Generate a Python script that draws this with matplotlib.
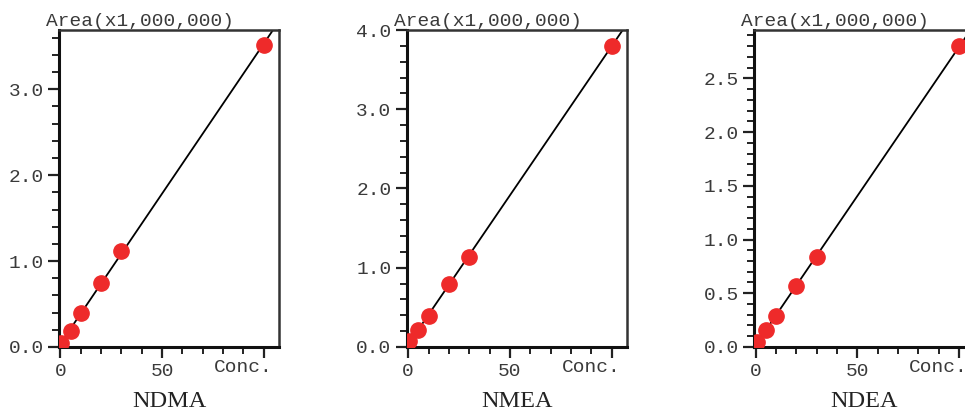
import numpy as np
import matplotlib
matplotlib.use('Agg')
import matplotlib.pyplot as plt
from matplotlib.ticker import MultipleLocator, FixedLocator

# concentration levels (same for the three compounds)
conc = [0.5, 5, 10, 20, 30, 100]

# peak area (x1,000,000)
ndma_area = [0.05, 0.18, 0.39, 0.75, 1.12, 3.52]
nmea_area = [0.08, 0.21, 0.39, 0.79, 1.14, 3.80]
ndea_area = [0.05, 0.16, 0.29, 0.565, 0.84, 2.80]

names = ['NDMA', 'NMEA', 'NDEA']
areas = [ndma_area, nmea_area, ndea_area]
ytop = [3.69, 4.0, 2.95]
ymajor = [1.0, 1.0, 0.5]
yminor = [0.2, 0.2, 0.1]
lefts = [0.0611, 0.4215, 0.7817]

mono = 'Liberation Mono'
serif = 'Liberation Serif'

fig = plt.figure(figsize=(9.65, 4.12), dpi=100)

for i in range(3):
    ax = fig.add_axes([lefts[i], 0.158, 0.228, 0.769])
    x = np.array(conc)
    y = np.array(areas[i])

    # calibration line (least squares fit)
    k, b = np.polyfit(x, y, 1)
    xl = np.array([-1, 110])
    ax.plot(xl, k * xl + b, color='black', lw=1.3, zorder=2)
    ax.plot(x, y, 'o', color='#ee2a2a', markersize=11, zorder=3)

    ax.set_xlim(-0.7, 107.5)
    ax.set_ylim(0, ytop[i])

    ax.xaxis.set_major_locator(FixedLocator([0, 50, 100]))
    ax.xaxis.set_minor_locator(MultipleLocator(10))
    ax.set_xticklabels(['0', '50', ''])
    ax.yaxis.set_major_locator(MultipleLocator(ymajor[i]))
    ax.yaxis.set_minor_locator(MultipleLocator(yminor[i]))
    ax.yaxis.set_major_formatter(lambda v, p: '%.1f' % v)

    ax.tick_params(axis='both', which='major', direction='out', length=8, width=1.6,
                   labelsize=14, color='#222222', labelcolor='#3a3a3a')
    ax.tick_params(axis='both', which='minor', direction='out', length=5, width=1.4,
                   color='#222222')
    ax.tick_params(axis='y', which='major', pad=3)
    for lab in ax.get_xticklabels() + ax.get_yticklabels():
        lab.set_family(mono)

    for side in ['left', 'bottom']:
        ax.spines[side].set_linewidth(2.2)
        ax.spines[side].set_color('#111111')
    for side in ['top', 'right']:
        ax.spines[side].set_linewidth(1.8)
        ax.spines[side].set_color('#333333')

    ax.text(-0.06, 1.0, 'Area(x1,000,000)', transform=ax.transAxes, family=mono,
            fontsize=14, color='#3a3a3a', ha='left', va='bottom')
    ax.text(0.97, -0.065, 'Conc.', transform=ax.transAxes, family=mono,
            fontsize=14, color='#3a3a3a', ha='right', va='center')
    ax.text(0.5, -0.172, names[i], transform=ax.transAxes, family=serif,
            fontsize=17.5, color='#222222', ha='center', va='center')

fig.savefig('out.png', dpi=100)
